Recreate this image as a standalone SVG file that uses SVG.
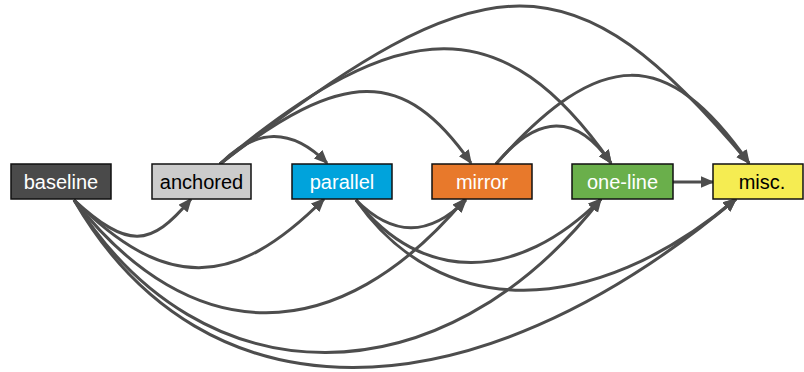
<svg xmlns="http://www.w3.org/2000/svg" width="804" height="372" viewBox="0 0 804 372">
<style>
.box{stroke:#111;stroke-width:1.5}
.lbl{font-family:"Liberation Sans",Arial,sans-serif;font-size:20px;text-anchor:middle}
.w{fill:#fff}.k{fill:#000}
.e{fill:none;stroke:#4d4d4d;stroke-width:3;marker-end:url(#ah)}
</style>
<defs>
<marker id="ah" markerUnits="userSpaceOnUse" markerWidth="15" markerHeight="13" refX="12.5" refY="6" orient="auto">
<path d="M0,0 L14,6 L0,12 z" fill="#4d4d4d"/>
</marker>
</defs>
<rect width="804" height="372" fill="#fff"/>
<g id="connectors">
<path class="e" d="M220,164 C256,128 291,127 327,163"/>
<path class="e" d="M220,164 C343,68 404,67 471,163"/>
<path class="e" d="M220,164 C402,11 504,10 611,163"/>
<path class="e" d="M220,164 C489,-46 573,-47 749,163"/>
<path class="e" d="M496,164 C538,114 576,113 611,163"/>
<path class="e" d="M496,164 C601,46 667,46 749,163"/>
<path class="e" d="M673,182 L713,182"/>
<path class="e" d="M74,200 C128,249 150,248 191,199"/>
<path class="e" d="M74,200 C165,291 233,290 324,199"/>
<path class="e" d="M74,200 C192,351 338,350 465,199"/>
<path class="e" d="M74,200 C201.5,404 442,403 601,199"/>
<path class="e" d="M74,200 C203,424 469,423 736,199"/>
<path class="e" d="M356,200 C393,237 429,237 466,200"/>
<path class="e" d="M356,200 C421.6,284 517,283 601,199"/>
<path class="e" d="M356,200 C440.7,321 592,320 736,199"/>
</g>
<g id="baseline"><rect class="box" x="11" y="164" width="100" height="35" fill="#4a4a4a"/><text class="lbl w" x="61" y="189">baseline</text></g>
<g id="anchored"><rect class="box" x="152" y="164" width="99" height="35" fill="#cccccc"/><text class="lbl k" x="201.5" y="189">anchored</text></g>
<g id="parallel"><rect class="box" x="292" y="164" width="100" height="35" fill="#00a3dc"/><text class="lbl w" x="342" y="189">parallel</text></g>
<g id="mirror"><rect class="box" x="432" y="164" width="100" height="35" fill="#e8792b"/><text class="lbl w" x="482" y="189">mirror</text></g>
<g id="one-line"><rect class="box" x="572" y="164" width="101" height="35" fill="#6aaf4b"/><text class="lbl w" x="622.5" y="189">one-line</text></g>
<g id="misc"><rect class="box" x="713" y="164" width="90" height="35" fill="#f5ec52"/><text class="lbl k" x="762" y="189">misc.</text></g>
</svg>
